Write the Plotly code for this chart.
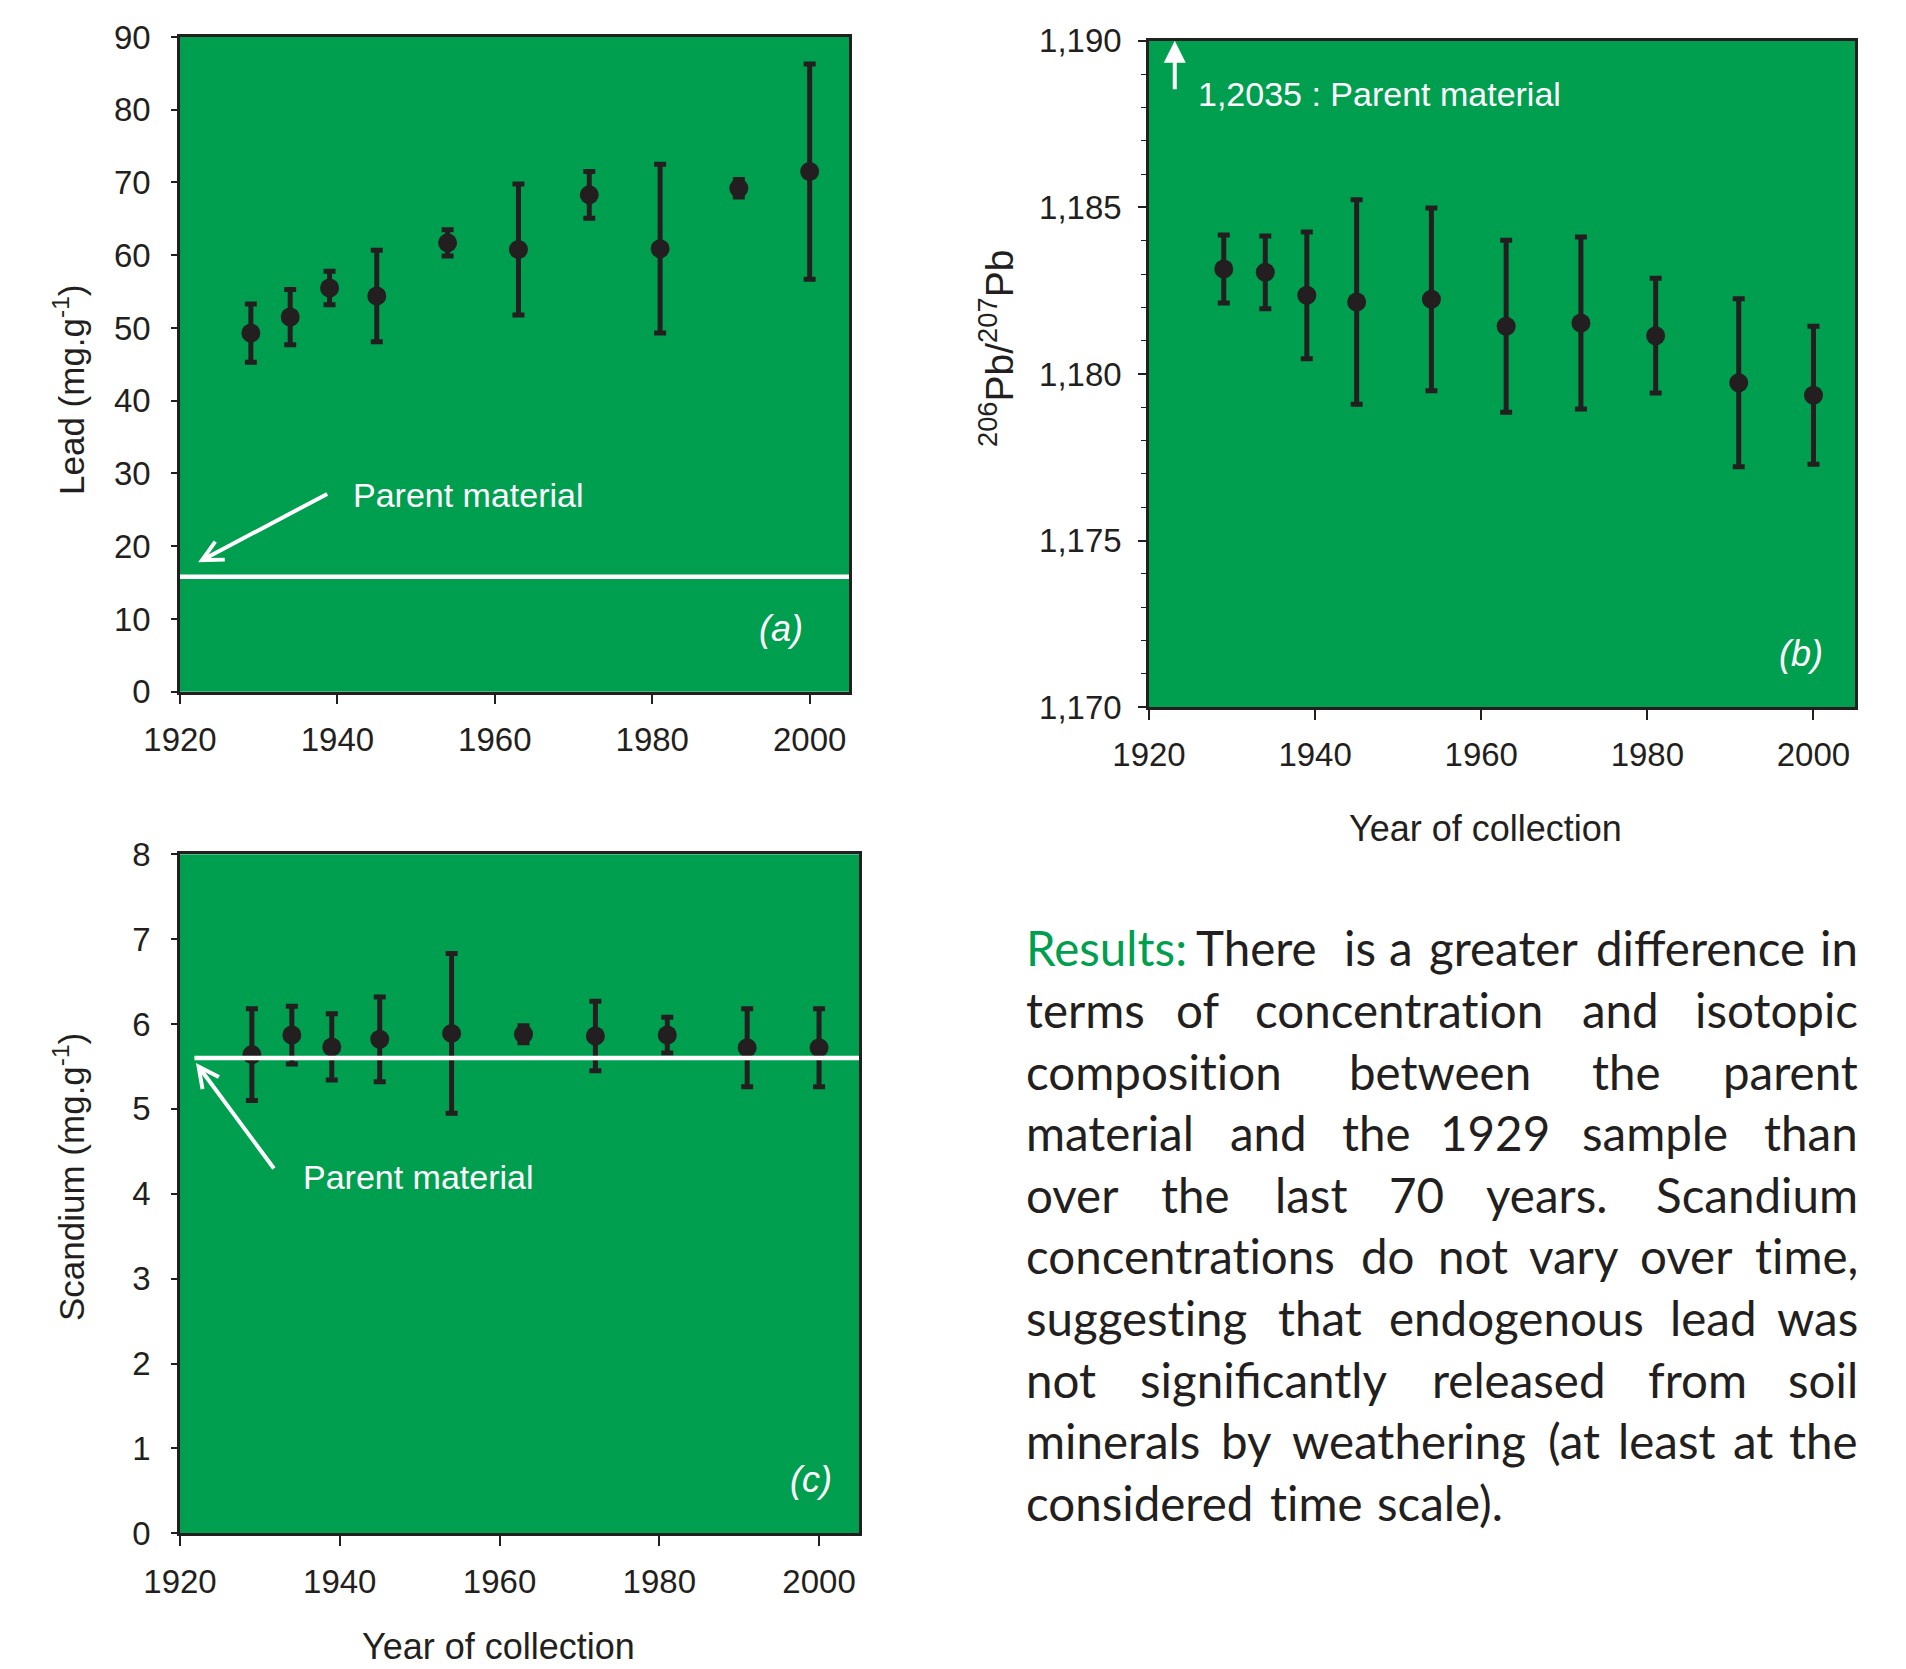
import plotly.graph_objects as go

# ---------------- data ----------------
years = [1929, 1934, 1939, 1945, 1954, 1963, 1972, 1981, 1991, 2000]

lead = [49.3, 51.5, 55.5, 54.4, 61.7, 60.8, 68.3, 60.9, 69.2, 71.5]
lead_err = [4.0, 3.8, 2.3, 6.3, 1.8, 9.0, 3.2, 11.6, 1.2, 14.8]
lead_parent = 15.8

ratio = [1.18315, 1.18305, 1.18236, 1.18216, 1.18224, 1.18143, 1.18153, 1.18115, 1.17974, 1.17936]
ratio_err = [0.00102, 0.00109, 0.00190, 0.00307, 0.00274, 0.00258, 0.00258, 0.00172, 0.00252, 0.00207]

scandium = [5.64, 5.87, 5.73, 5.82, 5.89, 5.88, 5.86, 5.87, 5.72, 5.72]
scandium_err = [0.54, 0.34, 0.39, 0.50, 0.94, 0.10, 0.41, 0.21, 0.46, 0.46]
scandium_parent = 5.6

ratio_ticks = [1.170, 1.175, 1.180, 1.185, 1.190]
ratio_ticktext = ["1,170", "1,175", "1,180", "1,185", "1,190"]

paragraph_lines = [
    "Results: There  is a greater difference in",
    "terms of concentration and isotopic",
    "composition between the parent",
    "material and the 1929 sample than",
    "over the last 70 years. Scandium",
    "concentrations do not vary over time,",
    "suggesting that endogenous lead was",
    "not significantly released from soil",
    "minerals by weathering (at least at the",
    "considered time scale).",
]

# ---------------- style ----------------
PAGE_OFF = 8              # default body margin of the page
W, H = 1906 - PAGE_OFF, 1669 - PAGE_OFF
GREEN = "#009f4f"
DARK = "#231f20"
AXFONT = "Liberation Sans, Arial, sans-serif"
TEXTFONT = "Lato, Open Sans, sans-serif"

def px_x(v):
    return (v - PAGE_OFF) / W

def px_y(v):
    return 1 - (v - PAGE_OFF) / H

fig = go.Figure()

def add_series(x, y, err, xa, ya):
    fig.add_trace(go.Scatter(
        x=x, y=y, xaxis=xa, yaxis=ya, mode="markers",
        marker=dict(color=DARK, size=19),
        error_y=dict(type="data", array=err, color=DARK, thickness=5, width=6),
        showlegend=False, hoverinfo="x+y"))

add_series(years, lead, lead_err, "x", "y")
add_series(years, ratio, ratio_err, "x2", "y2")
add_series(years, scandium, scandium_err, "x3", "y3")

# parent material lines
fig.add_trace(go.Scatter(x=[1920, 2005], y=[lead_parent, lead_parent], xaxis="x", yaxis="y",
                         mode="lines", line=dict(color="white", width=4.5), showlegend=False,
                         hoverinfo="skip"))
fig.add_trace(go.Scatter(x=[1921.8, 2005], y=[scandium_parent, scandium_parent], xaxis="x3", yaxis="y3",
                         mode="lines", line=dict(color="white", width=4.5), showlegend=False,
                         hoverinfo="skip"))

axis_common = dict(showline=True, linecolor=DARK, linewidth=2.5, mirror=True, automargin=False,
                   showgrid=False, zeroline=False, ticks="outside", tickcolor=DARK,
                   tickwidth=1.5, tickfont=dict(family=AXFONT, size=33, color=DARK))

doms = {
    "a": ([px_x(180), px_x(849)], [px_y(691.7), px_y(37)]),
    "b": ([px_x(1149), px_x(1855)], [px_y(707.3), px_y(40.7)]),
    "c": ([px_x(180), px_x(859)], [px_y(1533.3), px_y(854.3)]),
}

fig.update_layout(
    width=W, height=H, margin=dict(l=0, r=0, t=0, b=0, pad=0),
    paper_bgcolor="white", plot_bgcolor=GREEN, showlegend=False,
    xaxis=dict(domain=doms["a"][0], anchor="y", range=[1920, 2005], dtick=20, tick0=1920,
               ticklen=10, ticklabelstandoff=7, **axis_common),
    yaxis=dict(domain=doms["a"][1], anchor="x", range=[0, 90], dtick=10,
               ticklen=6, ticklabelstandoff=14, **axis_common),
    xaxis2=dict(domain=doms["b"][0], anchor="y2", range=[1920, 2005], dtick=20, tick0=1920,
                ticklen=10, ticklabelstandoff=6, **axis_common),
    yaxis2=dict(domain=doms["b"][1], anchor="x2", range=[1.170, 1.190],
                tickvals=ratio_ticks, ticktext=ratio_ticktext,
                ticklen=8, ticklabelstandoff=10,
                minor=dict(ticks="outside", ticklen=5, dtick=0.001, tickcolor=DARK, tickwidth=1.2),
                **axis_common),
    xaxis3=dict(domain=doms["c"][0], anchor="y3", range=[1920, 2005], dtick=20, tick0=1920,
                ticklen=10, ticklabelstandoff=7, **axis_common),
    yaxis3=dict(domain=doms["c"][1], anchor="x3", range=[0, 8], dtick=1,
                ticklen=6, ticklabelstandoff=14, **axis_common),
)

ann = []
C = dict(xanchor="center", yanchor="middle", showarrow=False, xref="paper", yref="paper")
# axis titles
ann.append(dict(text="Lead (mg.g<sup>-1</sup>)", x=px_x(69), y=px_y(390), textangle=-90,
                font=dict(family=AXFONT, size=35, color=DARK), **C))
ann.append(dict(text="<sup>206</sup>Pb/<sup>207</sup>Pb", x=px_x(997), y=px_y(348), textangle=-90,
                font=dict(family=AXFONT, size=39, color=DARK), **C))
ann.append(dict(text="Year of collection", x=px_x(1485), y=px_y(828),
                font=dict(family=AXFONT, size=36, color=DARK), **C))
ann.append(dict(text="Scandium (mg.g<sup>-1</sup>)", x=px_x(69), y=px_y(1177), textangle=-90,
                font=dict(family=AXFONT, size=35, color=DARK), **C))
ann.append(dict(text="Year of collection", x=px_x(498), y=px_y(1646),
                font=dict(family=AXFONT, size=36, color=DARK), **C))

# arrows + labels in panels
white_font = dict(family=AXFONT, size=34, color="white")
ann.append(dict(x=1922.3, y=17.8, ax=1938.9, ay=27.3, xref="x", yref="y", axref="x", ayref="y",
                showarrow=True, arrowhead=5, arrowsize=1.0, arrowwidth=4, arrowcolor="white", text=""))
ann.append(dict(x=1941.7, y=27.0, xref="x", yref="y", text="Parent material", showarrow=False,
                xanchor="left", yanchor="middle", font=white_font))
ann.append(dict(x=1923.1, y=1.1900, ax=1923.1, ay=1.1885, xref="x2", yref="y2", axref="x2", ayref="y2",
                showarrow=True, arrowhead=2, arrowsize=1.1, arrowwidth=4, arrowcolor="white", text=""))
ann.append(dict(x=1925.7, y=1.18841, xref="x2", yref="y2", text="1,2035 : Parent material",
                showarrow=False, xanchor="left", yanchor="middle", font=white_font))
ann.append(dict(x=1922.0, y=5.54, ax=1931.9, ay=4.28, xref="x3", yref="y3", axref="x3", ayref="y3",
                showarrow=True, arrowhead=5, arrowsize=1.0, arrowwidth=4, arrowcolor="white", text=""))
ann.append(dict(x=1935.1, y=4.2, xref="x3", yref="y3", text="Parent material", showarrow=False,
                xanchor="left", yanchor="middle", font=white_font))
ital = dict(family=AXFONT, size=36, color="white")
for lab, xx, yy, xr, yr in [("(a)", 1996.3, 8.67, "x", "y"), ("(b)", 1998.5, 1.1716, "x2", "y2"),
                            ("(c)", 1999.0, 0.635, "x3", "y3")]:
    ann.append(dict(x=xx, y=yy, xref=xr, yref=yr, text="<i>" + lab + "</i>", showarrow=False,
                    xanchor="center", yanchor="middle", font=ital))

# ---------------- justified paragraph ----------------
# approximate advance widths (1/1000 em) of the humanist face used in the reference
ADV = dict(a=482, b=569, c=448, d=564, e=501, f=292, g=559, h=555, i=234, j=243, k=469, l=236,
           m=834, n=555, o=549, p=569, q=563, r=327, s=396, t=331, u=551, v=481, w=736, x=463,
           y=471, z=428, R=534, S=493, T=497)
ADV.update({d: 513 for d in "0123456789"})
ADV.update({".": 207, ",": 207, ":": 207, "(": 284, ")": 284})
SPACE = 212
REF_FS = 50.5             # size of the reference text, px
L0, R0 = 1023.5, 1860.0   # text block edges, px

def wwidth(w):
    return sum(ADV.get(ch, 500) for ch in w) / 1000 * REF_FS

ZW = "\u200c"  # prevents the t-i ligature of the substitute font
def shown(w):
    return w.replace("ti", "t" + ZW + "i")

FS = 47.5
base0, pitch = 963.6, 61.6
nlines = len(paragraph_lines)
for i, line in enumerate(paragraph_lines):
    parts = line.split(" ")
    words, spaces = [], []
    cnt = 0
    for p in parts:
        if p == "":
            cnt += 1
            continue
        if words:
            spaces.append(cnt)
        words.append(p)
        cnt = 1
    widths = [wwidth(w) for w in words]
    last_line = i == nlines - 1
    if not last_line:
        gap = (R0 - L0 - sum(widths)) / sum(spaces)
    else:
        gap = SPACE / 1000 * REF_FS
    yc = base0 + i * pitch - 0.33 * FS
    xpos = L0
    n = len(words)
    for j, w in enumerate(words):
        if j > 0:
            xpos += spaces[j - 1] * gap
        color = GREEN if (i == 0 and j == 0) else DARK
        if j == 0 or last_line:
            xx, anc = xpos, "left"
        elif j == n - 1:
            xx, anc = R0, "right"
        else:
            xx, anc = xpos + widths[j] / 2, "center"
        xpos += widths[j]
        ann.append(dict(x=px_x(xx), y=px_y(yc), xref="paper", yref="paper", text=shown(w),
                        showarrow=False, xanchor=anc, yanchor="middle",
                        font=dict(family=TEXTFONT, size=FS, color=color)))

fig.update_layout(annotations=ann)
fig.write_html("out.html")
